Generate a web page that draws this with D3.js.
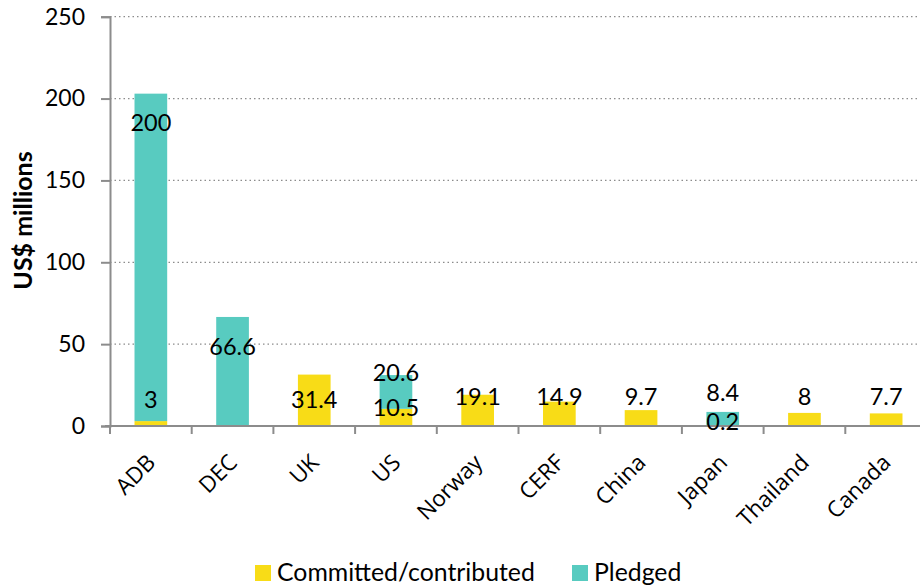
<!DOCTYPE html>
<html><head><meta charset="utf-8">
<script src="https://cdn.jsdelivr.net/npm/d3@7"></script>
<style>body{margin:0;background:#fff}svg{display:block}</style>
</head><body>
<svg id="c" width="920" height="588"></svg>
<script>
const categories = ["ADB","DEC","UK","US","Norway","CERF","China","Japan","Thailand","Canada"];
const committed = [3, 0, 31.4, 10.5, 19.1, 14.9, 9.7, 0.2, 8, 7.7];
const pledged   = [200, 66.6, 0, 20.6, 0, 0, 0, 8.4, 0, 0];
const yTicks = [0, 50, 100, 150, 200, 250];
const seriesNames = ["Committed/contributed", "Pledged"];

const colors = {committed: "#F8DC17", pledged: "#58CBC0"};
const calibriLike = "Lato, 'Open Sans', sans-serif";
const svg = d3.select("#c");
const W = 920, H = 588;
const x = d3.scaleBand().domain(categories).range([110, 927]).paddingInner(0.6).paddingOuter(0.3);
const y = d3.scaleLinear().domain([0, 250]).range([426, 16.7]);

// gridlines
svg.append("g").selectAll("line").data(yTicks.filter(d => d > 0)).join("line")
  .attr("x1", 110).attr("x2", W).attr("y1", d => y(d)).attr("y2", d => y(d))
  .attr("stroke", "#8c8c8c").attr("stroke-width", 1.3).attr("stroke-dasharray", "1.5,3");

// bars
const rows = categories.map((c, i) => ({c, committed: committed[i], pledged: pledged[i]}));
const stack = d3.stack().keys(["committed", "pledged"])(rows);
svg.append("g").selectAll("g").data(stack).join("g")
  .attr("fill", d => colors[d.key])
  .selectAll("rect").data(d => d).join("rect")
  .attr("x", d => x(d.data.c)).attr("width", x.bandwidth())
  .attr("y", d => y(d[1])).attr("height", d => y(d[0]) - y(d[1]));

// axes
const yAxis = svg.append("g").attr("transform", "translate(110,0)")
  .call(d3.axisLeft(y).tickValues(yTicks).tickSize(9).tickPadding(16));
yAxis.select(".domain").attr("stroke", "#8c8c8c").attr("stroke-width", 2);
yAxis.selectAll(".tick line").attr("stroke", "#8c8c8c").attr("stroke-width", 2);
yAxis.selectAll("text").attr("font-family", calibriLike).attr("font-size", 23).attr("fill", "#000");

const step = x.step();
const xTickPos = d3.range(categories.length + 1).map(i => 110 + i * step);
svg.append("line").attr("x1", 105).attr("x2", W).attr("y1", y(0)).attr("y2", y(0))
  .attr("stroke", "#8c8c8c").attr("stroke-width", 2);
svg.append("g").selectAll("line").data(xTickPos).join("line")
  .attr("x1", d => d).attr("x2", d => d).attr("y1", y(0)).attr("y2", y(0) + 8)
  .attr("stroke", "#8c8c8c").attr("stroke-width", 2);

// category labels
svg.append("g").selectAll("text").data(categories).join("text")
  .attr("transform", d => `translate(${x(d) + x.bandwidth()/2 + 6},${y(0) + 38}) rotate(-45)`)
  .attr("text-anchor", "end")
  .attr("font-family", "'Open Sans', sans-serif").attr("font-size", 22.5).attr("fill", "#000")
  .text(d => d);

// y title
svg.append("text").attr("transform", "translate(32,220.5) rotate(-90)")
  .attr("text-anchor", "middle").attr("font-family", calibriLike)
  .attr("font-weight", "bold").attr("font-size", 25).text("US$ millions");

// data labels (label anchor levels as placed in the source chart, in data units)
const committedLabelAt = [15.9, null, 15.9, 11, 17.7, 17.7, 17.7, 2.4, 17.7, 17.7];
const pledgedLabelAt   = [185.4, 48.3, null, 32.4, null, null, null, 20.2, null, null];
const labels = [];
categories.forEach((c, i) => {
  if (committed[i] > 0) labels.push({c, v: committed[i], at: committedLabelAt[i]});
  if (pledged[i] > 0) labels.push({c, v: pledged[i], at: pledgedLabelAt[i]});
});
svg.append("g").selectAll("text").data(labels).join("text")
  .attr("x", d => x(d.c) + x.bandwidth()/2).attr("y", d => y(d.at))
  .attr("dy", "0.35em").attr("text-anchor", "middle")
  .attr("font-family", calibriLike).attr("font-size", 23.5).attr("fill", "#000")
  .text(d => d.v);

// legend
const lg = svg.append("g");
const legendItems = [{name: seriesNames[0], color: colors.committed, x: 255}, {name: seriesNames[1], color: colors.pledged, x: 572}];
legendItems.forEach(it => {
  lg.append("rect").attr("x", it.x).attr("y", 565).attr("width", 16).attr("height", 16).attr("fill", it.color);
  lg.append("text").attr("x", it.x + 22).attr("y", 581)
    .attr("font-family", calibriLike).attr("font-size", 24.8).attr("fill", "#000").text(it.name);
});
</script>
</body></html>
